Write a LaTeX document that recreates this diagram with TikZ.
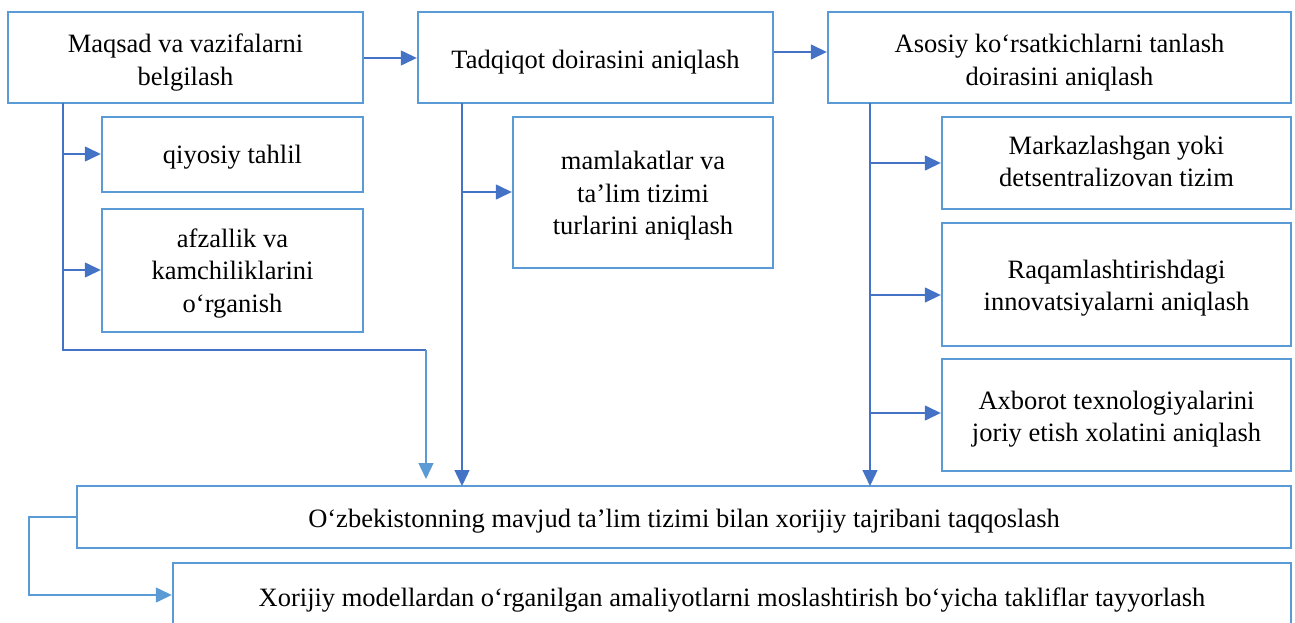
\documentclass[tikz,border=0pt]{standalone}
\usepackage{fontspec}
\setmainfont{Liberation Serif}
\usetikzlibrary{arrows.meta}
\definecolor{boxblue}{HTML}{5B9BD5}
\definecolor{lineblue}{HTML}{4472C4}
\newcommand\bxtext[2]{\raisebox{-#1}[\height][\depth]{\begin{tabular}{@{}c@{}}#2\end{tabular}}}
\tikzset{
  box/.style={draw=boxblue, line width=2.4pt, inner sep=0pt, align=center,
    font=\fontsize{26.5}{32.5}\selectfont, text=black},
  conn/.style={draw=lineblue, line width=1.4pt, -{Triangle[length=16pt,width=15pt]}},
  connlight/.style={draw=boxblue, line width=1.4pt, -{Triangle[length=16pt,width=15pt]}},
}
\begin{document}
\begin{tikzpicture}[x=1pt,y=-1pt]
\useasboundingbox (0,0) rectangle (1295,623);
% top row
\node[box, minimum width=355pt, minimum height=91pt] (A) at (185.5,57.5) {\bxtext{5pt}{Maqsad va vazifalarni\\belgilash}};
\node[box, minimum width=355pt, minimum height=91pt] (B) at (595.5,57.5) {\bxtext{5pt}{Tadqiqot doirasini aniqlash}};
\node[box, minimum width=463pt, minimum height=91pt] (C) at (1059.5,57.5) {\bxtext{5pt}{Asosiy ko‘rsatkichlarni tanlash\\doirasini aniqlash}};
% column A
\node[box, minimum width=261pt, minimum height=75pt] (A1) at (232.5,154.5) {\bxtext{2pt}{qiyosiy tahlil}};
\node[box, minimum width=261pt, minimum height=123pt] (A2) at (232.5,270.5) {\bxtext{2.5pt}{afzallik va\\kamchiliklarini\\o‘rganish}};
% column B
\node[box, minimum width=260pt, minimum height=151pt] (B1) at (643,192.5) {\bxtext{3pt}{mamlakatlar va\\ta’lim tizimi\\turlarini aniqlash}};
% column C
\node[box, minimum width=349pt, minimum height=92pt] (C1) at (1116.5,163) {\bxtext{1pt}{Markazlashgan yoki\\detsentralizovan tizim}};
\node[box, minimum width=349pt, minimum height=123pt] (C2) at (1116.5,284.5) {\bxtext{3.5pt}{Raqamlashtirishdagi\\innovatsiyalarni aniqlash}};
\node[box, minimum width=349pt, minimum height=112pt] (C3) at (1116.5,415) {\bxtext{4pt}{Axborot texnologiyalarini\\joriy etish xolatini aniqlash}};
% bottom
\node[box, minimum width=1214pt, minimum height=62pt] (D) at (684,517) {\bxtext{4pt}{O‘zbekistonning mavjud ta’lim tizimi bilan xorijiy tajribani taqqoslash}};
\node[box, minimum width=1118pt, minimum height=66pt] (E) at (732,596) {\bxtext{4pt}{Xorijiy modellardan o‘rganilgan amaliyotlarni moslashtirish bo‘yicha takliflar tayyorlash}};
% coordinates
\coordinate (aT) at (63,103);
\coordinate (a1) at (63,154);
\coordinate (a2) at (63,270);
\coordinate (aB) at (63,350);
\coordinate (aR) at (426,350);
\coordinate (aE) at (426,479);
\coordinate (bT) at (462,103);
\coordinate (b1) at (462,192);
\coordinate (bE) at (462,486);
\coordinate (cT) at (870,103);
\coordinate (c1) at (870,163);
\coordinate (c2) at (870,295);
\coordinate (c3) at (870,413);
\coordinate (cE) at (870,486);
\coordinate (dL) at (29,517);
\coordinate (eL) at (29,595);
% top arrows
\draw[conn] (A.east |- 0,58) -- (B.west |- 0,58);
\draw[conn] (B.east |- 0,52) -- (C.west |- 0,52);
% A trunk
\draw[draw=lineblue, line width=1.4pt] (aT) -- (aB) -- (aR);
\draw[connlight] (aR) -- (aE);
\draw[conn] (a1) -- (A1.west |- a1);
\draw[conn] (a2) -- (A2.west |- a2);
% B trunk
\draw[conn] (bT) -- (bE);
\draw[conn] (b1) -- (B1.west |- b1);
% C trunk
\draw[conn] (cT) -- (cE);
\draw[conn] (c1) -- (C1.west |- c1);
\draw[conn] (c2) -- (C2.west |- c2);
\draw[conn] (c3) -- (C3.west |- c3);
% loop
\draw[connlight] (D.west) -- (dL) -- (eL) -- (E.west |- eL);
\end{tikzpicture}
\end{document}
